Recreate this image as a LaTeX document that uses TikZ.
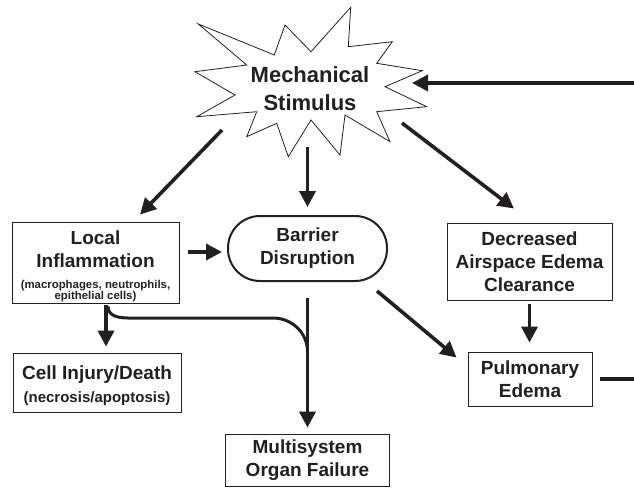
\documentclass[tikz,border=0pt]{standalone}
\usepackage{fontspec}
\setmainfont{Liberation Sans}
\usetikzlibrary{arrows.meta}
\definecolor{ink}{RGB}{35,31,32}
\newcommand{\smallnote}{\fontsize{11.4}{12}\selectfont}
\tikzstyle{box}=[draw=ink, line width=0.9pt, align=center, inner sep=0pt, text=ink, font=\fontsize{19}{23}\selectfont\bfseries]
\tikzstyle{rounded box}=[box, line width=2pt, rounded corners=32pt]
\tikzstyle{arrow}=[draw=ink, line width=3.6pt, -{Triangle[length=16pt,width=16pt]}]
\tikzstyle{merge}=[draw=ink, line width=3pt]
\tikzstyle{burst}=[draw=ink, line width=0.8pt, line join=miter]

\begin{document}
\begin{tikzpicture}[x=1pt, y=1pt]
      \useasboundingbox (0,0) rectangle (634,-487);

      % the starburst
      \draw[burst] (198.3,-24) -- (274.3,-55) -- (285,-25) -- (311,-51.7) -- (350.7,-7.3)
        -- (348.3,-46.7) -- (392.3,-41.7) -- (376.7,-63.3) -- (422.3,-70.7) -- (385,-86.7)
        -- (426.7,-106.7) -- (376.7,-111.7) -- (390,-141.7) -- (345,-115) -- (340,-155)
        -- (311,-120) -- (288.3,-156.7) -- (276.7,-123.3) -- (246.7,-136.7) -- (256.7,-111.7)
        -- (196.7,-116.7) -- (235,-95) -- (195,-71.7) -- (246.7,-65) -- cycle;
      \node[align=center, text=ink, font=\fontsize{22}{28}\selectfont\bfseries] (stim) at (310,-89) {Mechanical\\Stimulus};
      \coordinate (stim sw) at (222,-130);
      \coordinate (stim s) at (307.5,-147);
      \coordinate (stim se) at (402,-123);
      \coordinate (stim e) at (412,-83);

      \node[box, minimum width=167pt, minimum height=81pt] (local) at (95.5,-262.5)
        {\mbox{}\\[-1pt]Local\\Inflammation\\[-2pt]\smallnote (macrophages, neutrophils,\\[-12pt]\smallnote epithelial cells)};
      \node[rounded box, minimum width=159pt, minimum height=65pt] (barrier) at (307.5,-248.5) {Barrier\\Disruption};
      \node[box, minimum width=165pt, minimum height=77pt] (decreased) at (529.5,-261.5) {Decreased\\Airspace Edema\\Clearance};
      \node[box, minimum width=124pt, minimum height=54pt] (pulm) at (530,-379) {Pulmonary\\Edema};
      \node[box, minimum width=168pt, minimum height=59pt] (cell) at (97,-382.5)
        {\mbox{}\\[-3pt]Cell Injury/Death\\[0pt]\fontsize{15}{18}\selectfont (necrosis/apoptosis)};
      \node[box, minimum width=164pt, minimum height=52pt] (multi) at (307.5,-460) {Multisystem\\Organ Failure};

      \draw[arrow] (stim sw) -- ([xshift=44.5pt,yshift=7pt]local.north);
      \draw[arrow] (stim s) -- ([yshift=8pt]barrier.north);
      \draw[arrow] (stim se) -- ([xshift=-15.5pt,yshift=14pt]decreased.north);

      \coordinate (la) at ([xshift=9pt,yshift=10.5pt]local.east);
      \draw[arrow, shorten >=5pt] (la) -- (la -| barrier.west);
      \draw[arrow, shorten <=16pt, shorten >=6pt] (barrier.south) -- (multi.north);
      \draw[arrow] ([xshift=69.5pt,yshift=-9pt]barrier.south) -- ([xshift=-11pt,yshift=-6pt]pulm.north west);
      \draw[arrow, shorten <=4pt, shorten >=9pt] (decreased.south) -- (decreased.south |- pulm.north);

      \coordinate (lc) at ([xshift=10.5pt]local.south);
      \draw[arrow, shorten <=2pt, shorten >=6pt] (lc) -- (lc |- cell.north);

      % side branch joining the arrow to organ failure
      \coordinate (bend a) at (140,-318);
      \coordinate (bend b) at (273,-318);
      \coordinate (merge end) at ([yshift=82pt]multi.north);
      \draw[merge] ([xshift=2pt,yshift=-3pt]lc) to[out=-90,in=180] (bend a) -- (bend b) to[out=0,in=90] (merge end);

      % feedback to the stimulus
      \draw[arrow, shorten <=8pt] (pulm.east) -- ++(70,0) |- (stim e);
    \end{tikzpicture}
\end{document}
